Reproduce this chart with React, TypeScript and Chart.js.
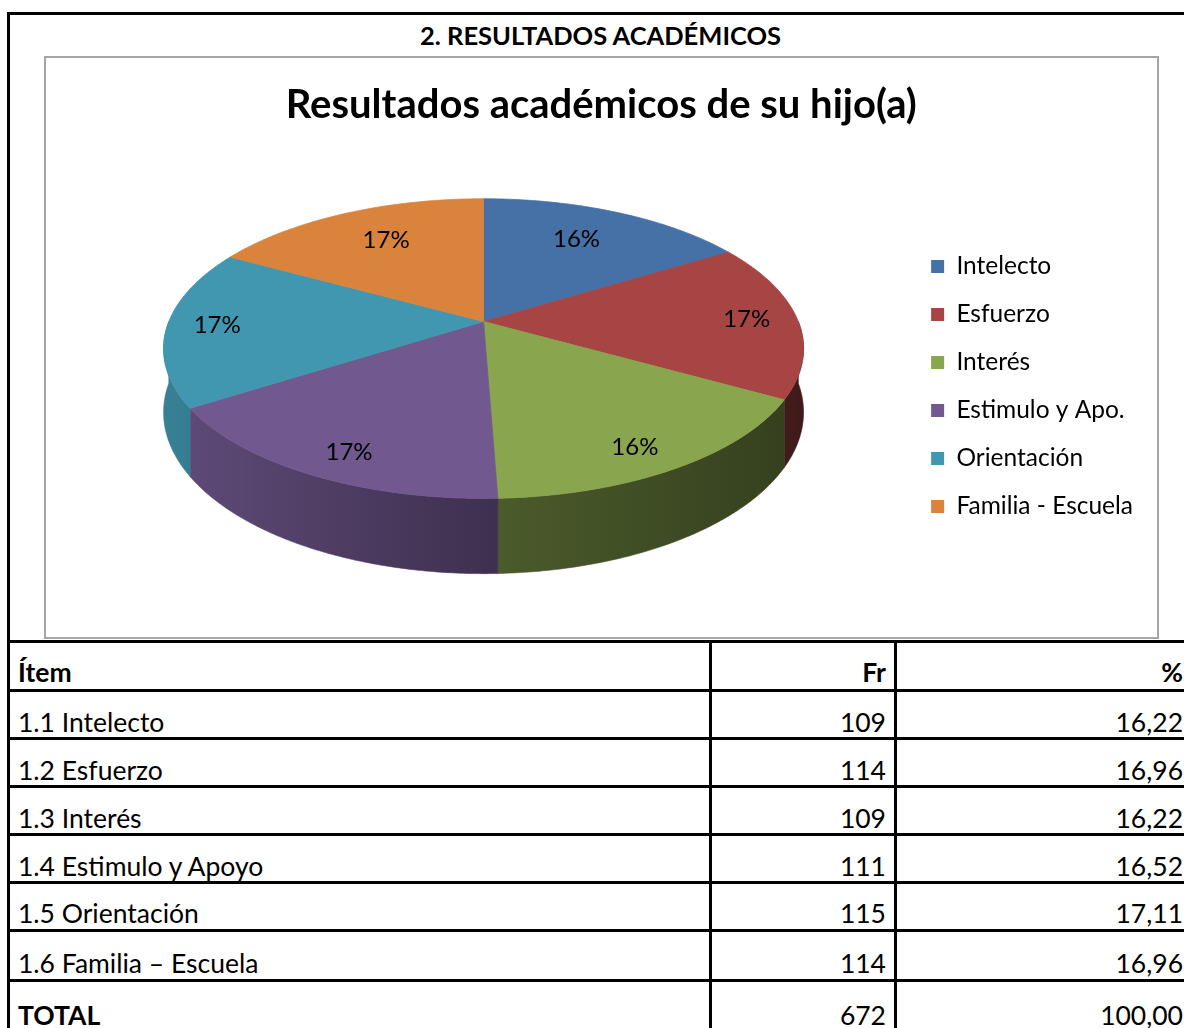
import React, { useEffect, useRef } from "react";
import { Chart, registerables } from "chart.js";

Chart.register(...registerables);

// ---------- data ----------
const LEGEND_LABELS = ["Intelecto", "Esfuerzo", "Interés", "Estimulo y Apo.", "Orientación", "Familia - Escuela"];
const ITEM_LABELS = ["1.1 Intelecto", "1.2 Esfuerzo", "1.3 Interés", "1.4 Estimulo y Apoyo", "1.5 Orientación", "1.6 Familia – Escuela"];
const FREQUENCIES = [109, 114, 109, 111, 115, 114];
const PERCENTS = [16.22, 16.96, 16.22, 16.52, 17.11, 16.96];
const TOTAL_FR = 672;
const TOTAL_PCT = 100.0;
const SLICE_COLORS = ["#4571A7", "#A64544", "#89A54E", "#71588F", "#4197AF", "#DA833D"];

const SHEET_TITLE = "2. RESULTADOS ACADÉMICOS";
const CHART_TITLE = "Resultados académicos de su hijo(a)";

// ---------- 3D projection style ----------
const KX = 1.255; // horizontal radius / chart radius
const KY = 0.578; // vertical radius / chart radius
const KD = 0.3; // wall depth / chart radius
const P = 0.18; // perspective strength
// label placement style (radial fraction depends on slice direction)
const LABEL_T0 = 0.84;
const LABEL_TA = 0.0786;
const LABEL_TB = -0.134;
const LABEL_DY_FRONT = 16;
const LABEL_DY_BACK = 7;

const FONT = "Lato, 'Open Sans', sans-serif";

function hexToRgb(h: string) {
  const n = parseInt(h.slice(1), 16);
  return [(n >> 16) & 255, (n >> 8) & 255, n & 255];
}
function shade(h: string, f: number) {
  const [r, g, b] = hexToRgb(h);
  return `rgb(${Math.round(r * f)},${Math.round(g * f)},${Math.round(b * f)})`;
}
function wallFactor(n: number) {
  if (n < 0.52) return 0.85 - (0.3 * n) / 0.52;
  return 0.55 - (0.17 * (n - 0.52)) / 0.48;
}

const pie3d = {
  id: "pie3d",
  beforeDatasetsDraw(chart: any) {
    const meta = chart.getDatasetMeta(0);
    const arcs = meta.data as any[];
    if (!arcs.length) return false;
    const ctx: CanvasRenderingContext2D = chart.ctx;
    const a0 = arcs[0];
    const cx = a0.x;
    const cy = a0.y;
    const R = a0.outerRadius;
    const RX = R * KX;
    const RY = R * KY;
    const D = R * KD;
    const apexY = cy - (RY / (1 - P) - RY / (1 + P) + D) / 2;
    const proj = (a: number, t: number) => {
      const u = t * Math.cos(a);
      const v = t * Math.sin(a);
      const d = 1 - P * v;
      return { x: cx + (RX * u) / d, y: apexY + (RY * v) / d, v };
    };
    const depthAt = (v: number) => (D * (1 - P)) / (1 - P * v);
    const half = RX / Math.sqrt(1 - P * P);
    const xmin = cx - half;
    const xmax = cx + half;

    const data = chart.data.datasets[0].data as number[];
    const total = data.reduce((s, v) => s + v, 0);

    ctx.save();
    // side walls (front half only)
    arcs.forEach((arc: any) => {
      const lo = Math.max(arc.startAngle, 0);
      const hi = Math.min(arc.endAngle, Math.PI);
      if (hi <= lo) return;
      const steps = Math.max(8, Math.ceil((hi - lo) / 0.01));
      const top: any[] = [];
      for (let k = 0; k <= steps; k++) top.push(proj(lo + ((hi - lo) * k) / steps, 1));
      const base = arc.options.backgroundColor as string;
      const x1 = Math.min(top[0].x, top[top.length - 1].x);
      const x2 = Math.max(top[0].x, top[top.length - 1].x);
      const g = ctx.createLinearGradient(x1, 0, x2 + 0.01, 0);
      for (let s = 0; s <= 6; s++) {
        const xx = x1 + ((x2 - x1) * s) / 6;
        g.addColorStop(s / 6, shade(base, wallFactor((xx - xmin) / (xmax - xmin))));
      }
      ctx.beginPath();
      top.forEach((p, k) => (k ? ctx.lineTo(p.x, p.y) : ctx.moveTo(p.x, p.y)));
      for (let k = top.length - 1; k >= 0; k--) ctx.lineTo(top[k].x, top[k].y + depthAt(top[k].v));
      ctx.closePath();
      ctx.fillStyle = g;
      ctx.fill();
      ctx.strokeStyle = g;
      ctx.lineWidth = 0.6;
      ctx.stroke();
    });

    // top faces
    arcs.forEach((arc: any) => {
      const s0 = arc.startAngle;
      const e0 = arc.endAngle;
      const steps = Math.max(8, Math.ceil((e0 - s0) / 0.01));
      ctx.beginPath();
      ctx.moveTo(cx, apexY);
      for (let k = 0; k <= steps; k++) {
        const p = proj(s0 + ((e0 - s0) * k) / steps, 1);
        ctx.lineTo(p.x, p.y);
      }
      ctx.closePath();
      ctx.fillStyle = arc.options.backgroundColor;
      ctx.fill();
      ctx.strokeStyle = arc.options.backgroundColor;
      ctx.lineWidth = 0.8;
      ctx.stroke();
    });

    // percentage labels
    ctx.fillStyle = "#000";
    ctx.font = `24px ${FONT}`;
    ctx.textAlign = "center";
    ctx.textBaseline = "middle";
    arcs.forEach((arc: any, i: number) => {
      const mid = (arc.startAngle + arc.endAngle) / 2;
      const s = Math.sin(mid);
      const t = LABEL_T0 + LABEL_TA * s + LABEL_TB * s * s;
      const p = proj(mid, t);
      const dy = s > 0 ? LABEL_DY_FRONT * s * s : -LABEL_DY_BACK * s * s;
      ctx.fillText(Math.round((data[i] / total) * 100) + "%", p.x, p.y + dy);
    });
    ctx.restore();
    return false;
  },
};

function PieChart() {
  const ref = useRef<HTMLCanvasElement | null>(null);
  useEffect(() => {
    if (!ref.current) return;
    const chart = new Chart(ref.current, {
      type: "pie",
      data: {
        labels: LEGEND_LABELS,
        datasets: [
          {
            data: FREQUENCIES,
            backgroundColor: SLICE_COLORS,
            borderWidth: 0,
          },
        ],
      },
      options: {
        animation: false,
        responsive: false,
        events: [],
        layout: { padding: { left: 13.5, right: 14, top: 0, bottom: 0 } },
        plugins: {
          title: {
            display: true,
            text: CHART_TITLE,
            color: "#000",
            font: { family: FONT, size: 40, weight: "bold" },
            padding: { top: 23, bottom: 6.4 },
          },
          legend: {
            display: true,
            position: "right",
            align: "center",
            title: { display: true, text: "", font: { size: 10 }, padding: { top: 66, bottom: 0 } },
            labels: {
              boxWidth: 13,
              boxHeight: 13,
              padding: 23.5,
              color: "#000",
              font: { family: FONT, size: 24.5 },
            },
          },
          tooltip: { enabled: false },
        },
      },
      plugins: [pie3d],
    } as any);
    return () => chart.destroy();
  }, []);
  return <canvas ref={ref} width={1111} height={579} style={{ position: "absolute", left: 46, top: 58, width: 1111, height: 579 }} />;
}

const fmt = (v: number) => v.toFixed(2).replace(".", ",");

export default function App() {
  const hLines = [640, 689, 737, 785, 833, 881, 929, 979];
  const rowCenters = [722, 770, 818, 866, 913, 963];
  const cell = (text: string, cy: number, opts: any) => (
    <div
      style={{
        position: "absolute",
        top: cy - 16,
        height: 32,
        lineHeight: "32px",
        fontSize: 26.5,
        whiteSpace: "nowrap",
        color: "#000",
        ...opts,
      }}
    >
      {text}
    </div>
  );
  return (
    <div
      style={{
        position: "absolute",
        left: 0,
        top: 0,
        width: 1184,
        height: 1028,
        overflow: "hidden",
        background: "#fff",
        fontFamily: FONT,
      }}
    >
      <div style={{ position: "absolute", left: 7, top: 12, width: 1200, height: 3, background: "#000" }} />
      <div style={{ position: "absolute", left: 7, top: 12, width: 3, height: 1100, background: "#000" }} />
      <div
        style={{
          position: "absolute",
          left: 0,
          top: 19,
          width: 1201,
          textAlign: "center",
          fontWeight: "bold",
          fontSize: 25.5,
          lineHeight: "32px",
        }}
      >
        {SHEET_TITLE}
      </div>
      <div
        style={{
          position: "absolute",
          left: 44,
          top: 56,
          width: 1115,
          height: 583,
          border: "2px solid #a5a5a5",
          boxSizing: "border-box",
          background: "#fff",
        }}
      />
      <PieChart />
      {hLines.map((y) => (
        <div key={"h" + y} style={{ position: "absolute", left: 7, top: y, width: 1200, height: 3, background: "#000" }} />
      ))}
      {[709, 894].map((x) => (
        <div key={"v" + x} style={{ position: "absolute", left: x, top: 640, width: 3, height: 400, background: "#000" }} />
      ))}
      {cell("Ítem", 672, { left: 18, fontWeight: "bold" })}
      {cell("Fr", 672, { left: 600, width: 286, textAlign: "right", fontWeight: "bold" })}
      {cell("%", 672, { left: 900, width: 283, textAlign: "right", fontWeight: "bold" })}
      {ITEM_LABELS.map((t, i) => (
        <React.Fragment key={t}>
          {cell(t, rowCenters[i], { left: 18 })}
          {cell(String(FREQUENCIES[i]), rowCenters[i], { left: 600, width: 286, textAlign: "right" })}
          {cell(fmt(PERCENTS[i]), rowCenters[i], { left: 900, width: 283, textAlign: "right" })}
        </React.Fragment>
      ))}
      {cell("TOTAL", 1015, { left: 18, fontWeight: "bold" })}
      {cell(String(TOTAL_FR), 1015, { left: 600, width: 286, textAlign: "right" })}
      {cell(fmt(TOTAL_PCT), 1015, { left: 900, width: 283, textAlign: "right" })}
    </div>
  );
}
